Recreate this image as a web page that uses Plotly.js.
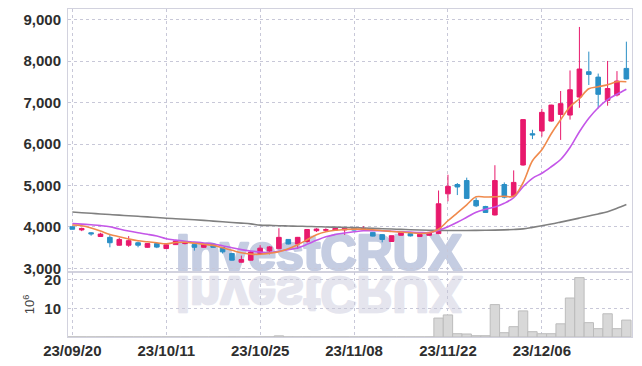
<!DOCTYPE html>
<html><head><meta charset="utf-8">
<script src="https://cdn.plot.ly/plotly-3.0.1.min.js"></script>
<style>html,body{margin:0;padding:0;background:#fff;}#chart{width:642px;height:366px;}</style>
</head><body><div id="chart"></div>
<script>
const dates = ['2023-09-20','2023-09-21','2023-09-22','2023-09-25','2023-09-26','2023-09-27','2023-10-04','2023-10-05','2023-10-06','2023-10-10',
'2023-10-11','2023-10-12','2023-10-13','2023-10-16','2023-10-17','2023-10-18','2023-10-19','2023-10-20','2023-10-23','2023-10-24',
'2023-10-25','2023-10-26','2023-10-27','2023-10-30','2023-10-31','2023-11-01','2023-11-02','2023-11-03','2023-11-06','2023-11-07',
'2023-11-08','2023-11-09','2023-11-10','2023-11-13','2023-11-14','2023-11-15','2023-11-16','2023-11-17','2023-11-20','2023-11-21',
'2023-11-22','2023-11-23','2023-11-24','2023-11-27','2023-11-28','2023-11-29','2023-11-30','2023-12-01','2023-12-04','2023-12-05',
'2023-12-06','2023-12-07','2023-12-08','2023-12-11','2023-12-12','2023-12-13','2023-12-14','2023-12-15','2023-12-18','2023-12-19'];

const openP  = [4005,3930,3860,3770,3750,3560,3560,3620,3510,3600, 3480,3575,3600,3575,3510,3590,3505,3360,3150,3200,
                3360,3420,3475,3700,3590,3650,3910,3920,3925,3930, 3970,3935,3870,3815,3650,3800,3840,3770,3800,3840,
                4800,5025,5120,4640,4495,4290,5025,4755,5495,6250, 6315,6555,6715,6700,7135,7745,7615,7055,7185,7825];
const highP  = [4015,3985,3875,3860,3810,3740,3780,3650,3610,3610, 3580,3670,3640,3580,3600,3600,3510,3370,3310,3420,
                3560,3540,3970,3710,3760,3950,3970,3970,3975,3980, 3980,4020,3880,3830,3790,3880,3850,3830,3880,4880,
                5260,5060,5190,4705,4510,5490,5075,5365,6600,6345, 6850,6950,7280,7775,8825,8230,7700,8005,7760,8470];
const lowP   = [3940,3900,3790,3760,3510,3550,3520,3510,3500,3490, 3470,3570,3580,3430,3500,3500,3360,3190,3145,3190,
                3350,3340,3470,3580,3470,3620,3880,3880,3920,3810, 3915,3910,3770,3630,3640,3790,3770,3760,3790,3830,
                4620,4770,4680,4480,4340,4280,4690,4740,5480,6120, 6180,6540,6100,6590,6875,7425,6860,6925,7150,7560];
const closeP = [3945,3965,3835,3830,3620,3700,3670,3560,3600,3515, 3570,3665,3615,3510,3590,3510,3400,3200,3215,3395,
                3490,3520,3750,3590,3750,3940,3950,3935,3970,3970, 3925,3970,3780,3700,3790,3870,3785,3820,3870,4560,
                4980,4965,4690,4510,4350,5120,4720,5075,6590,6220, 6765,6940,6975,7310,7810,7680,7200,7340,7520,7570];

// volume in millions of shares
const volume = [0.03,0.03,0.02,0.03,0.04,0.03,0.03,0.02,0.02,0.02, 0.03,0.03,0.02,0.03,0.02,0.02,0.03,0.05,0.04,0.05,
                0.04,0.05,0.4,0.05,0.04,0.05,0.03,0.03,0.02,0.03, 0.02,0.03,0.03,0.04,0.03,0.03,0.02,0.02,0.03,6.6,
                7.7,1.15,1.05,0.45,0.45,11.3,1.5,3.6,9.1,1.85, 1.15,1.15,4.6,13.6,20.7,5.0,2.9,8.1,2.9,5.9];

const maShort = [4048,4029,3976,3901,3819,3764,3711,3667,3643,3619, 3595,3626,3631,3609,3583,3556,3498,3438,3378,3346,
                 3342,3366,3402,3474,3571,3691,3812,3884,3921,3940, 3948,3945,3933,3909,3892,3877,3860,3843,3860,3945,
                 4150,4343,4536,4729,4722,4729,4741,4741,5067,5598, 5863,6249,6587,6901,7094,7335,7383,7431,7504,7504];
const maMid   = [4082,4070,4053,4034,4005,3950,3901,3860,3824,3781, 3716,3684,3655,3638,3614,3590,3547,3498,3455,3421,
                 3395,3383,3414,3455,3494,3583,3679,3764,3817,3855, 3884,3909,3913,3909,3899,3887,3877,3868,3865,3921,
                 4005,4114,4234,4355,4427,4480,4572,4705,4970,5175, 5296,5453,5627,5916,6297,6623,6877,7070,7202,7323];
const maLong  = [4360,4345,4330,4315,4300,4285,4272,4258,4244,4228, 4212,4200,4188,4175,4160,4142,4126,4110,4093,4075,
                 4045,4038,4031,4025,4019,4013,4007,4001,3996,3990, 3985,3975,3966,3958,3950,3942,3935,3928,3922,3918,
                 3915,3915,3916,3918,3921,3925,3931,3940,3955,3990, 4030,4071,4118,4166,4215,4265,4315,4370,4450,4540];

const tickIdx = [0,10,20,30,40,50];
const tickLabels = ['23/09/20','23/10/11','23/10/25','23/11/08','23/11/22','23/12/06'];
const priceTicks = [3000,4000,5000,6000,7000,8000,9000];
const volTicks = [10,20];

const UP = '#e8196c', DOWN = '#2a8fc6';
const gridC = '#c8c8d8', lineC = '#d2d2de';
const tickFont = {family:'Liberation Sans Narrow, Liberation Sans, sans-serif', size:15, color:'#2e2e2e', weight:'bold'};

const traces = [
  {type:'bar', x:dates, y:volume, xaxis:'x', yaxis:'y2',
   marker:{color:'#d8d8d8', line:{color:'#bcbcbc', width:1}}, hoverinfo:'skip'},
  {type:'candlestick', x:dates, open:openP, high:highP, low:lowP, close:closeP, xaxis:'x', yaxis:'y',
   increasing:{line:{color:UP, width:1}, fillcolor:UP},
   decreasing:{line:{color:DOWN, width:1}, fillcolor:DOWN}, hoverinfo:'skip'},
  {type:'scatter', mode:'lines', x:dates, y:maLong, line:{color:'#808080', width:1.6, shape:'spline'}, yaxis:'y'},
  {type:'scatter', mode:'lines', x:dates, y:maMid, line:{color:'#c456e8', width:1.6, shape:'spline'}, yaxis:'y'},
  {type:'scatter', mode:'lines', x:dates, y:maShort, line:{color:'#f08a4c', width:1.6, shape:'spline'}, yaxis:'y'}
];

const layout = {
  width:642, height:366,
  margin:{l:68, r:10, t:9, b:29},
  paper_bgcolor:'#fff', plot_bgcolor:'#fff',
  showlegend:false, bargap:0,
  xaxis:{type:'category', range:[-0.46,59.6], anchor:'y2',
    tickvals: tickIdx.map(i => dates[i]), ticktext: tickLabels, tickangle:0,
    tickfont: tickFont, showgrid:true, gridcolor:gridC, griddash:'dot', gridwidth:1,
    showline:true, linecolor:lineC, mirror:'all', ticks:'', zeroline:false,
    rangeslider:{visible:false}, fixedrange:true},
  yaxis:{domain:[0.198,1], range:[2913,9258], tickvals:priceTicks, tickformat:',',
    tickfont: tickFont, showgrid:true, gridcolor:gridC, griddash:'dot',
    showline:true, linecolor:lineC, mirror:true, ticks:'', zeroline:false, ticklabelstandoff:3},
  yaxis2:{domain:[0,0.198], range:[0,22.65], tickvals:volTicks,
    tickfont: tickFont, showgrid:true, gridcolor:gridC, griddash:'dot',
    showline:true, linecolor:lineC, mirror:true, ticks:'', zeroline:false, ticklabelstandoff:3,
    title:{text:'10<sup>6</sup>', font:{family:'Liberation Sans, sans-serif', size:13, color:'#444'}, standoff:6}},
  annotations:[
    {xref:'paper', yref:'paper', x:0.4454, y:0.256, xanchor:'center', yanchor:'middle', showarrow:false,
     text:'<b>InvestCRUX</b>', font:{family:'Liberation Sans, sans-serif', size:50, color:'#c5cde2'}},
    {xref:'paper', yref:'paper', x:0.4454, y:0.256, xanchor:'center', yanchor:'middle', showarrow:false,
     text:'<b>InvestCRUX</b>', font:{family:'Liberation Sans, sans-serif', size:50, color:'#e5e5ee'}}
  ]
};

Plotly.newPlot('chart', traces, layout, {staticPlot:true, displayModeBar:false}).then(gd => {
  try {
    const svg = gd.querySelector('svg.main-svg');
    const below = svg.querySelector('.layer-below');
    const anns = gd.querySelectorAll('.annotation');
    if (below && anns.length >= 2) {
      const main = anns[0], refl = anns[1];
      const ns = 'http://www.w3.org/2000/svg';
      main.querySelectorAll('text').forEach(t => { t.style.stroke = '#c5cde2'; t.style.strokeWidth = '2.5px'; t.style.strokeLinejoin = 'round'; });
      refl.querySelectorAll('text').forEach(t => { t.style.stroke = '#e5e5ee'; t.style.strokeWidth = '2.5px'; t.style.strokeLinejoin = 'round'; });
      const g = document.createElementNS(ns, 'g');
      const Y = 273.5;
      g.setAttribute('transform', 'matrix(1,0,0,-1,0,' + (2*Y) + ')');
      below.appendChild(main);
      g.appendChild(refl);
      below.appendChild(g);
    }
  } catch(e) {}
});
</script></body></html>
